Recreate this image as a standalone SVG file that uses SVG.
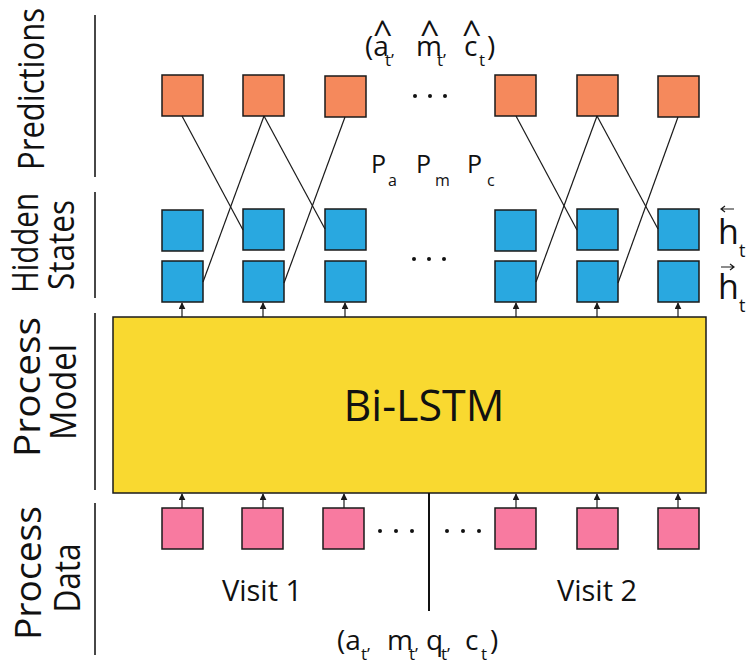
<svg xmlns="http://www.w3.org/2000/svg" width="748" height="672" viewBox="0 0 748 672">
<style>
.pred{fill:#F5895C;stroke:#1a1a1a;stroke-width:1.5}
.hid{fill:#29A8E0;stroke:#1a1a1a;stroke-width:1.5}
.dat{fill:#F87AA0;stroke:#1a1a1a;stroke-width:1.5}
.box{fill:#F9D930;stroke:#1a1a1a;stroke-width:1.5}
.conn{stroke:#1a1a1a;stroke-width:1.2;fill:none}
.arr{stroke:#1a1a1a;stroke-width:1.2;fill:none;marker-end:url(#ah)}
.sep{stroke:#333;stroke-width:1.8}
.t{font-family:"Open Sans","Liberation Sans",sans-serif;fill:#111}
.lab{font-family:"Open Sans","Liberation Sans",sans-serif;font-size:36px;fill:#111;text-anchor:middle}
.dot{fill:#111}
</style>
<defs>
<marker id="ah" viewBox="0 0 10 10" refX="9" refY="5" markerWidth="7" markerHeight="7" markerUnits="userSpaceOnUse" orient="auto">
<path d="M0,0 L10,5 L0,10 z" fill="#1a1a1a"/>
</marker>
</defs>

<g id="side-labels">
<line class="sep" x1="95" y1="15" x2="95" y2="177"/>
<line class="sep" x1="95" y1="192" x2="95" y2="298"/>
<line class="sep" x1="95" y1="313" x2="95" y2="490"/>
<line class="sep" x1="95" y1="503" x2="95" y2="655"/>
<text class="lab" font-size="36" transform="translate(44,89) rotate(-90)" textLength="162" lengthAdjust="spacingAndGlyphs">Predictions</text>
<text class="lab" transform="translate(38,243) rotate(-90)" textLength="100" lengthAdjust="spacingAndGlyphs">Hidden</text>
<text class="lab" transform="translate(74,245) rotate(-90)" textLength="90" lengthAdjust="spacingAndGlyphs">States</text>
<text class="lab" transform="translate(40,387) rotate(-90)" textLength="140" lengthAdjust="spacingAndGlyphs">Process</text>
<text class="lab" transform="translate(76,392) rotate(-90)" textLength="96" lengthAdjust="spacingAndGlyphs">Model</text>
<text class="lab" transform="translate(41,573) rotate(-90)" textLength="134" lengthAdjust="spacingAndGlyphs">Process</text>
<text class="lab" transform="translate(80,578) rotate(-90)" textLength="69" lengthAdjust="spacingAndGlyphs">Data</text>
</g>

<g id="predictions">
<rect class="pred" x="162" y="75" width="41" height="41"/>
<rect class="pred" x="243" y="75" width="41" height="41"/>
<rect class="pred" x="325" y="76" width="41" height="41"/>
<rect class="pred" x="495" y="75" width="41" height="41"/>
<rect class="pred" x="577" y="75" width="41" height="41"/>
<rect class="pred" x="658" y="76" width="41" height="41"/>
<circle class="dot" cx="415" cy="96" r="2"/>
<circle class="dot" cx="430" cy="96" r="2"/>
<circle class="dot" cx="445" cy="96" r="2"/>
</g>

<g id="pred-label">
<text class="t" font-size="28" x="365" y="56">(a</text>
<text class="t" font-size="17" x="385" y="66">t’</text>
<text class="t" font-size="28" x="416" y="56">m</text>
<text class="t" font-size="17" x="437" y="66">t’</text>
<text class="t" font-size="28" x="464" y="56">c</text>
<text class="t" font-size="17" x="479" y="66">t</text>
<text class="t" font-size="28" x="487" y="56">)</text>
<text class="t" font-size="34" x="373" y="45">^</text>
<text class="t" font-size="34" x="420" y="45">^</text>
<text class="t" font-size="34" x="462" y="45">^</text>
</g>

<g id="p-labels">
<text class="t" font-size="25" x="371" y="173">P</text>
<text class="t" font-size="16" x="388" y="186">a</text>
<text class="t" font-size="25" x="416" y="173">P</text>
<text class="t" font-size="16" x="435" y="186">m</text>
<text class="t" font-size="25" x="467" y="173">P</text>
<text class="t" font-size="16" x="487" y="186">c</text>
</g>

<g id="hidden-states">
<rect class="hid" x="162" y="210" width="41" height="41"/>
<rect class="hid" x="243" y="209" width="41" height="41"/>
<rect class="hid" x="325" y="209" width="41" height="41"/>
<rect class="hid" x="495" y="210" width="41" height="41"/>
<rect class="hid" x="577" y="209" width="41" height="41"/>
<rect class="hid" x="658" y="209" width="41" height="41"/>
<rect class="hid" x="162" y="261" width="41" height="41"/>
<rect class="hid" x="243" y="261" width="41" height="41"/>
<rect class="hid" x="325" y="261" width="41" height="41"/>
<rect class="hid" x="495" y="261" width="41" height="41"/>
<rect class="hid" x="577" y="261" width="41" height="41"/>
<rect class="hid" x="658" y="261" width="41" height="41"/>
<circle class="dot" cx="414" cy="259" r="2"/>
<circle class="dot" cx="429" cy="259" r="2"/>
<circle class="dot" cx="444" cy="259" r="2"/>
</g>

<g id="h-labels">
<path class="conn" d="M734,209 L721,209 M725,206 L721,209 L725,212"/>
<text class="t" font-size="34" x="718" y="244">h</text>
<text class="t" font-size="18" x="739" y="257">t</text>
<path class="conn" d="M721,267 L734,267 M730,264 L734,267 L730,270"/>
<text class="t" font-size="34" x="718" y="299">h</text>
<text class="t" font-size="18" x="739" y="312">t</text>
</g>

<g id="bi-lstm">
<rect class="box" x="113" y="317" width="593" height="176"/>
<text class="t" font-size="43" x="424" y="421" text-anchor="middle">Bi-LSTM</text>
</g>

<g id="process-data">
<rect class="dat" x="162" y="508" width="41" height="41"/>
<rect class="dat" x="242" y="508" width="41" height="41"/>
<rect class="dat" x="323" y="508" width="41" height="41"/>
<rect class="dat" x="495" y="508" width="41" height="41"/>
<rect class="dat" x="577" y="508" width="41" height="41"/>
<rect class="dat" x="658" y="508" width="41" height="41"/>
<circle class="dot" cx="380" cy="531" r="2"/>
<circle class="dot" cx="396" cy="531" r="2"/>
<circle class="dot" cx="412" cy="531" r="2"/>
<circle class="dot" cx="447" cy="531" r="2"/>
<circle class="dot" cx="463" cy="531" r="2"/>
<circle class="dot" cx="479" cy="531" r="2"/>
<line x1="429" y1="493" x2="429" y2="611" stroke="#111" stroke-width="2"/>
<text class="t" font-size="29" x="262" y="601" text-anchor="middle">Visit 1</text>
<text class="t" font-size="29" x="597" y="601" text-anchor="middle">Visit 2</text>
</g>

<g id="data-label">
<text class="t" font-size="28" x="337" y="650">(a</text>
<text class="t" font-size="17" x="361" y="660">t’</text>
<text class="t" font-size="28" x="387" y="650">m</text>
<text class="t" font-size="17" x="409" y="660">t’</text>
<text class="t" font-size="28" x="426" y="650">q</text>
<text class="t" font-size="17" x="441" y="660">t’</text>
<text class="t" font-size="28" x="465" y="650">c</text>
<text class="t" font-size="17" x="481" y="660">t</text>
<text class="t" font-size="28" x="490" y="650">)</text>
</g>

<g id="connectors">
<line class="conn" x1="182" y1="116" x2="243" y2="230"/>
<line class="conn" x1="264" y1="116" x2="203" y2="282"/>
<line class="conn" x1="264" y1="116" x2="325" y2="229"/>
<line class="conn" x1="345" y1="117" x2="284" y2="283"/>
<line class="conn" x1="516" y1="116" x2="577" y2="230"/>
<line class="conn" x1="597" y1="116" x2="536" y2="282"/>
<line class="conn" x1="597" y1="116" x2="658" y2="229"/>
<line class="conn" x1="678" y1="117" x2="618" y2="283"/>
<line class="arr" x1="182" y1="317" x2="182" y2="303"/>
<line class="arr" x1="263" y1="317" x2="263" y2="303"/>
<line class="arr" x1="345" y1="317" x2="345" y2="303"/>
<line class="arr" x1="516" y1="317" x2="516" y2="303"/>
<line class="arr" x1="597" y1="317" x2="597" y2="303"/>
<line class="arr" x1="678" y1="317" x2="678" y2="303"/>
<line class="arr" x1="182" y1="508" x2="182" y2="494"/>
<line class="arr" x1="263" y1="508" x2="263" y2="494"/>
<line class="arr" x1="344" y1="508" x2="344" y2="494"/>
<line class="arr" x1="516" y1="508" x2="516" y2="494"/>
<line class="arr" x1="597" y1="508" x2="597" y2="494"/>
<line class="arr" x1="678" y1="508" x2="678" y2="494"/>
</g>
</svg>
